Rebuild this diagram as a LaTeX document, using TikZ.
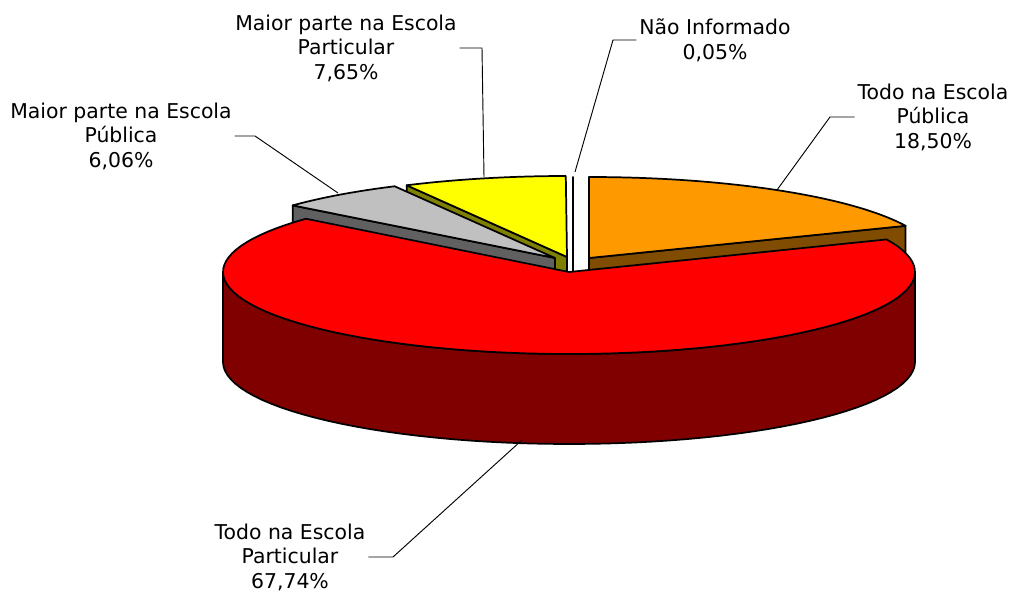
\documentclass[tikz,border=0pt]{standalone}
\usepackage{fontspec}
\setmainfont{DejaVu Sans}
\definecolor{laranja}{RGB}{255,153,0}
\definecolor{laranjaEsc}{RGB}{128,76,0}
\definecolor{vermelho}{RGB}{255,0,0}
\definecolor{vermelhoEsc}{RGB}{128,0,0}
\definecolor{cinza}{RGB}{192,192,192}
\definecolor{cinzaEsc}{RGB}{96,96,96}
\definecolor{amarelo}{RGB}{255,255,0}
\definecolor{amareloEsc}{RGB}{128,128,0}
\begin{document}
\begin{tikzpicture}[
    x=0.75pt,y=-0.75pt,
    fatia/.style={draw=black,line width=1.3pt,line join=round},
    rotulo/.style={align=center,inner sep=2pt,font=\fontsize{15.3}{18.4}\selectfont},
    guia/.style={draw=black,line width=0.7pt},
  ]
  \useasboundingbox (0,0) rectangle (1018,592);
  % Maior parte na Escola Particular
  \filldraw[fatia,fill=amareloEsc] (567,257) -- ({567+345*sin(332.3)},{257-81*cos(332.3)}) -- ++(0,90) -- (567,347) -- cycle;
  \filldraw[fatia,fill=amarelo] (567,257) -- plot[domain=332.3:359.8,samples=30] ({567+345*sin(\x)},{257-81*cos(\x)}) -- cycle;
  % Maior parte na Escola Publica
  \filldraw[fatia,fill=cinzaEsc] (555,258) -- ({555+345*sin(310.5)},{258-81*cos(310.5)}) -- ++(0,90) -- (555,348) -- cycle;
  \filldraw[fatia,fill=cinza] (555,258) -- plot[domain=310.5:332.3,samples=30] ({555+345*sin(\x)},{258-81*cos(\x)}) -- cycle;
  % Nao Informado
  \filldraw[fatia,fill=white] (573,258) -- (573,177) -- (573,348) -- cycle;
  % Todo na Escola Publica
  \filldraw[fatia,fill=laranjaEsc] (589,258) -- ({589+345*sin(66.6)},{258-81*cos(66.6)}) -- ++(0,90) -- (589,348) -- cycle;
  \filldraw[fatia,fill=laranja] (589,258) -- plot[domain=0:66.6,samples=40] ({589+345*sin(\x)},{258-81*cos(\x)}) -- cycle;
  % Todo na Escola Particular
  \filldraw[fatia,fill=vermelhoEsc] plot[domain=90:270,samples=60] ({569+346*sin(\x)},{272-82*cos(\x)})
    -- plot[domain=270:90,samples=60] ({569+346*sin(\x)},{362-82*cos(\x)}) -- cycle;
  \filldraw[fatia,fill=vermelho] (569,272) -- plot[domain=66.6:310.5,samples=90] ({569+346*sin(\x)},{272-82*cos(\x)}) -- cycle;

  \node[rotulo] (naoInf) at (715,40) {Não Informado\\0,05\%};
  \node[rotulo] (tdPub) at (933,117) {Todo na Escola\\Pública\\18,50\%};
  \node[rotulo] (mpPart) at (346,48) {Maior parte na Escola\\Particular\\7,65\%};
  \node[rotulo] (mpPub) at (121,136) {Maior parte na Escola\\Pública\\6,06\%};
  \node[rotulo] (tdPart) at (290,557) {Todo na Escola\\Particular\\67,74\%};

  \coordinate (naoInfK) at (613,40);
  \coordinate (naoInfT) at (575,172);
  \coordinate (tdPubK) at (830,117);
  \coordinate (tdPubT) at (777,190);
  \coordinate (mpPartK) at (482,48);
  \coordinate (mpPartT) at (484,177);
  \coordinate (mpPubK) at (255,136);
  \coordinate (mpPubT) at (338,193);
  \coordinate (tdPartK) at (393,557);
  \coordinate (tdPartT) at (522,440);
  \draw[guia] (naoInf.west) -- (naoInfK) -- (naoInfT);
  \draw[guia] (tdPub.west) -- (tdPubK) -- (tdPubT);
  \draw[guia] (mpPart.east) -- (mpPartK) -- (mpPartT);
  \draw[guia] (mpPub.east) -- (mpPubK) -- (mpPubT);
  \draw[guia] (tdPart.east) -- (tdPartK) -- (tdPartT);
\end{tikzpicture}
\end{document}
